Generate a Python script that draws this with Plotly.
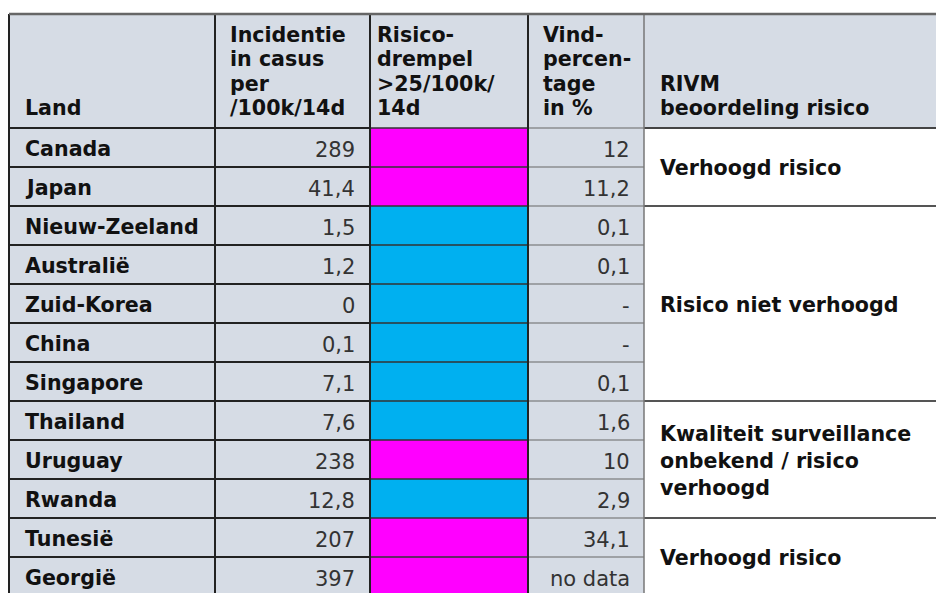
import plotly.graph_objects as go

# ---------------- data ----------------
countries = ["Canada", "Japan", "Nieuw-Zeeland", "Australië", "Zuid-Korea", "China",
             "Singapore", "Thailand", "Uruguay", "Rwanda", "Tunesië", "Georgië"]
incidence = ["289", "41,4", "1,5", "1,2", "0", "0,1", "7,1", "7,6", "238", "12,8", "207", "397"]
vind_pct = ["12", "11,2", "0,1", "0,1", "-", "-", "0,1", "1,6", "10", "2,9", "34,1", "no data"]
risk_threshold = 25
header_lines = [
    ["Land"],
    ["Incidentie", "in casus", "per", "/100k/14d"],
    ["Risico-", "drempel", "&gt;25/100k/", "14d"],
    ["Vind-", "percen-", "tage", "in %"],
    ["RIVM", "beoordeling risico"],
]
rivm_labels = ["Verhoogd risico", "Risico niet verhoogd",
               "Kwaliteit surveillance<br>onbekend / risico<br>verhoogd", "Verhoogd risico"]
rivm_first_row = [0, 2, 7, 10]
rivm_last_row = [1, 6, 9, 11]

# ---------------- layout constants ----------------
W, H = 936, 593
col_edges = [9, 215, 370, 528, 644, 940]
text_pad = [14, 13, 5, 13, 14]
header_top, header_bottom = 14, 128
row_h = 39
line_pitch = 24.3
FS = 20.6
FS_NUM = 21
GRAY = "#D6DCE5"
MAGENTA = "#FF00FF"
CYAN = "#00B0F0"
FONT = "DejaVu Sans, Verdana, sans-serif"

def to_num(s):
    return float(s.replace(",", "."))

def row_top(i):
    return header_bottom + i * row_h

shapes = []
annotations = []

def rect(x0, x1, y0, y1, color):
    shapes.append(dict(type="rect", xref="x", yref="y", x0=x0, x1=x1, y0=y0, y1=y1,
                       fillcolor=color, line=dict(width=0), layer="below"))

def line(x0, y0, x1, y1, color, width):
    shapes.append(dict(type="line", xref="x", yref="y", x0=x0, y0=y0, x1=x1, y1=y1,
                       line=dict(color=color, width=width), layer="above"))

n = len(countries)
body_bottom = row_top(n)

# header fill
rect(col_edges[0], col_edges[5], header_top, header_bottom, GRAY)
# body fills
for i in range(n):
    y0, y1 = row_top(i), row_top(i + 1)
    rect(col_edges[0], col_edges[2], y0, y1, GRAY)
    c = MAGENTA if to_num(incidence[i]) > risk_threshold else CYAN
    rect(col_edges[2], col_edges[3], y0, y1, c)
    rect(col_edges[3], col_edges[4], y0, y1, GRAY)
    rect(col_edges[4], col_edges[5], y0, y1, "white")

# header text
for ci, lines_ in enumerate(header_lines):
    k = len(lines_)
    for li, t in enumerate(lines_):
        yc = 108 - (k - 1 - li) * line_pitch
        annotations.append(dict(x=col_edges[ci] + text_pad[ci], y=yc, xref="x", yref="y",
                                text="<b>%s</b>" % t, showarrow=False, xanchor="left",
                                yanchor="middle", align="left",
                                font=dict(family=FONT, size=FS, color="#111111")))

# body text
for i in range(n):
    yc = row_top(i) + row_h / 2 + 1
    annotations.append(dict(x=col_edges[0] + text_pad[0], y=yc, xref="x", yref="y",
                            text="<b>%s</b>" % countries[i], showarrow=False,
                            xanchor="left", yanchor="middle",
                            font=dict(family=FONT, size=FS, color="#111111")))
    annotations.append(dict(x=col_edges[2] - 13, y=yc + 1, xref="x", yref="y",
                            text=incidence[i], showarrow=False,
                            xanchor="right", yanchor="middle",
                            font=dict(family=FONT, size=FS_NUM, color="#333333")))
    annotations.append(dict(x=col_edges[4] - 12, y=yc + 1, xref="x", yref="y",
                            text=vind_pct[i], showarrow=False,
                            xanchor="right", yanchor="middle",
                            font=dict(family=FONT, size=FS_NUM, color="#333333")))

# RIVM merged cells
for lab, r0, r1 in zip(rivm_labels, rivm_first_row, rivm_last_row):
    yc = (row_top(r0) + row_top(r1 + 1)) / 2 + 1
    annotations.append(dict(x=col_edges[4] + text_pad[4], y=yc, xref="x", yref="y",
                            text="<b>%s</b>" % lab, showarrow=False,
                            xanchor="left", yanchor="middle", align="left",
                            font=dict(family=FONT, size=FS, color="#111111")))
    if r1 + 1 < n:
        line(col_edges[4], row_top(r1 + 1), col_edges[5], row_top(r1 + 1), "#555555", 2)

# grid lines
for i in range(n + 1):
    y = row_top(i)
    line(col_edges[0], y, col_edges[2], y, "#222222", 2)
    line(col_edges[2], y, col_edges[3], y, "#333333", 1.5)
    line(col_edges[3], y, col_edges[4], y, "#666666", 1.2)
line(col_edges[4], header_bottom, col_edges[5], header_bottom, "#444444", 2)
for ci in range(4):
    line(col_edges[ci], header_top, col_edges[ci], body_bottom, "#222222", 2)
line(col_edges[4], header_top, col_edges[4], body_bottom, "#777777", 1.5)
line(col_edges[0], header_top, col_edges[5], header_top, "#666666", 2.5)

fig = go.Figure()
fig.add_trace(go.Scatter(x=[0, W], y=[0, H], mode="markers",
                         marker=dict(opacity=0), hoverinfo="skip", showlegend=False))
fig.update_layout(
    width=W, height=H, margin=dict(l=0, r=0, t=0, b=0),
    paper_bgcolor="white", plot_bgcolor="white",
    xaxis=dict(range=[0, W], visible=False, fixedrange=True),
    yaxis=dict(range=[H, 0], visible=False, fixedrange=True),
    shapes=shapes, annotations=annotations, showlegend=False,
)
fig.write_html("out.html", config={"displayModeBar": False},
               post_script="document.body.style.margin='0';document.body.style.overflow='hidden';")
